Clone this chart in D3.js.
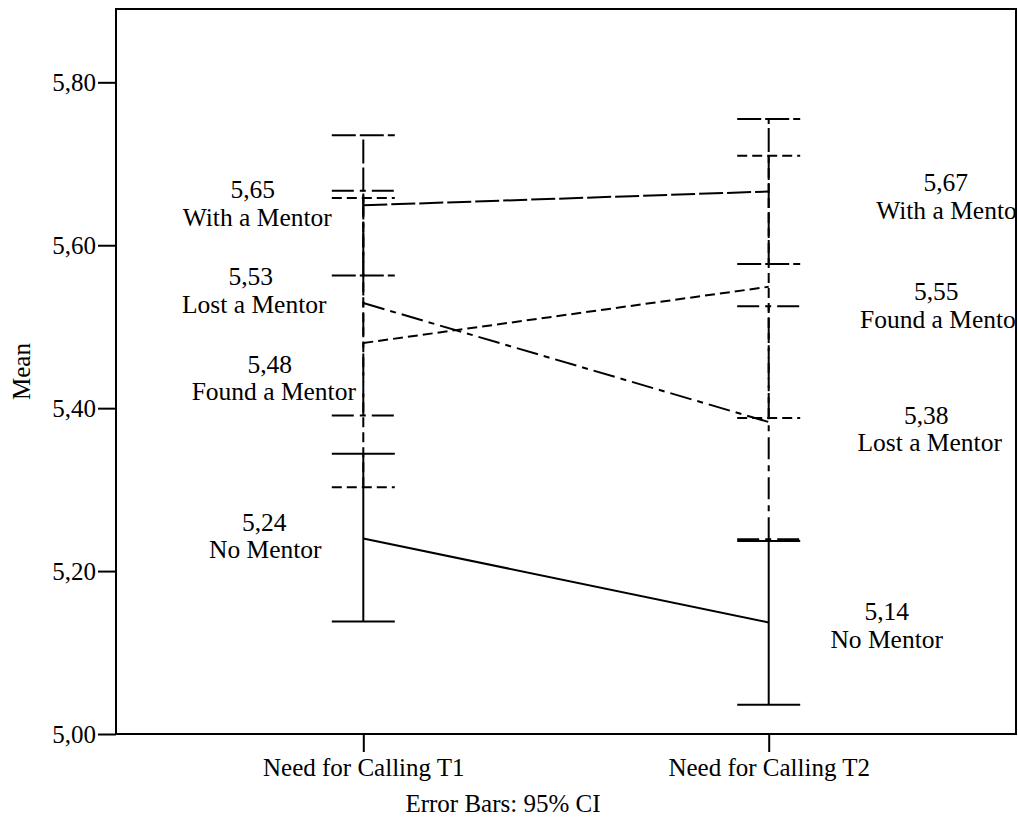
<!DOCTYPE html>
<html>
<head>
<meta charset="utf-8">
<script src="https://cdn.jsdelivr.net/npm/d3@7"></script>
<style>
  html, body { margin: 0; padding: 0; background: #fff; }
  svg { display: block; }
  svg text { font-family: "Liberation Serif", "DejaVu Serif", serif !important; fill: #000; }
</style>
</head>
<body>
<svg id="chart" width="1018" height="818"></svg>
<script>
// ---- data ----
const categories = ["Need for Calling T1", "Need for Calling T2"];
const groups = ["No Mentor", "With a Mentor", "Lost a Mentor", "Found a Mentor"];
const yTicks = [5.00, 5.20, 5.40, 5.60, 5.80];

const noMentorMean = [5.240, 5.137];
const noMentorLow  = [5.138, 5.036];
const noMentorHigh = [5.344, 5.237];

const withMentorMean = [5.649, 5.666];
const withMentorLow  = [5.563, 5.577];
const withMentorHigh = [5.735, 5.755];

const lostMentorMean = [5.529, 5.383];
const lostMentorLow  = [5.391, 5.239];
const lostMentorHigh = [5.667, 5.525];

const foundMentorMean = [5.480, 5.549];
const foundMentorLow  = [5.303, 5.388];
const foundMentorHigh = [5.658, 5.710];

// ---- styles / layout (not data) ----
const dashes = {
  "No Mentor": null,
  "With a Mentor": "24,4",
  "Lost a Mentor": "22,6,6,6",
  "Found a Mentor": "10,5"
};
// label offsets relative to (category x, mean y): [nameDx, numDx, numDy, nameDy]
const labelLayout = {
  "No Mentor":      [[-98, -99, -7.5, 20], [118, 118, -2, 26]],
  "With a Mentor":  [[-106, -110.5, -7, 20.5], [182, 177, 0, 28]],
  "Lost a Mentor":  [[-109, -112.5, -18, 10], [161, 157.5, 2, 29]],
  "Found a Mentor": [[-89.5, -93.5, 30, 57.5], [173.5, 167.5, 13, 41]]
};

const series = [
  { name: "No Mentor", mean: noMentorMean, low: noMentorLow, high: noMentorHigh },
  { name: "With a Mentor", mean: withMentorMean, low: withMentorLow, high: withMentorHigh },
  { name: "Lost a Mentor", mean: lostMentorMean, low: lostMentorLow, high: lostMentorHigh },
  { name: "Found a Mentor", mean: foundMentorMean, low: foundMentorLow, high: foundMentorHigh }
];

const svg = d3.select("#chart");
const pLeft = 116, pRight = 1016, pTop = 9, pBottom = 734;
const FONT = "25px";
const LABEL_FONT = "25.5px";

const x = d3.scalePoint().domain(categories).range([pLeft, pRight]).padding(0.61);
const y = d3.scaleLinear().domain([5.0, 5.89]).range([pBottom, pTop]);
const fmt = v => d3.format(".2f")(v).replace(".", ",");

svg.append("defs").append("clipPath").attr("id", "plotclip")
  .append("rect").attr("x", pLeft).attr("y", pTop).attr("width", pRight - pLeft).attr("height", pBottom - pTop);

// frame
svg.append("rect")
  .attr("x", pLeft).attr("y", pTop).attr("width", pRight - pLeft).attr("height", pBottom - pTop)
  .attr("fill", "none").attr("stroke", "#000").attr("stroke-width", 2);

// y axis
const yAxis = svg.append("g").attr("transform", `translate(${pLeft},0)`)
  .call(d3.axisLeft(y).tickValues(yTicks).tickSize(18).tickPadding(2).tickFormat(fmt));
yAxis.attr("font-family", null).attr("font-size", null);
yAxis.select(".domain").remove();
yAxis.selectAll(".tick line").attr("stroke", "#000").attr("stroke-width", 2);
yAxis.selectAll(".tick text").style("font-size", FONT);

// x axis
const xAxis = svg.append("g").attr("transform", `translate(0,${pBottom})`)
  .call(d3.axisBottom(x).tickSize(18).tickPadding(6));
xAxis.attr("font-family", null).attr("font-size", null);
xAxis.select(".domain").remove();
xAxis.selectAll(".tick line").attr("stroke", "#000").attr("stroke-width", 2);
xAxis.selectAll(".tick text").style("font-size", FONT);

// axis titles
svg.append("text")
  .attr("transform", `translate(30,${(pTop + pBottom) / 2}) rotate(-90)`)
  .attr("text-anchor", "middle").style("font-size", FONT).text("Mean");
svg.append("text")
  .attr("x", 503).attr("y", 812)
  .attr("text-anchor", "middle").style("font-size", FONT).text("Error Bars: 95% CI");

const plot = svg.append("g").attr("clip-path", "url(#plotclip)");

// lines between means
const line = d3.line().x((d, i) => x(categories[i])).y(d => y(d));
series.forEach(s => {
  plot.append("path")
    .attr("d", line(s.mean))
    .attr("fill", "none").attr("stroke", "#000").attr("stroke-width", 2)
    .attr("stroke-dasharray", dashes[s.name]);
});

// error bars
const capHalf = 31.5;
series.forEach(s => {
  categories.forEach((c, i) => {
    const cx = x(c);
    const g = plot.append("g")
      .attr("fill", "none").attr("stroke", "#000").attr("stroke-width", 2)
      .attr("stroke-dasharray", dashes[s.name]);
    g.append("line").attr("x1", cx).attr("x2", cx).attr("y1", y(s.low[i])).attr("y2", y(s.high[i]));
    g.append("line").attr("x1", cx - capHalf).attr("x2", cx + capHalf).attr("y1", y(s.low[i])).attr("y2", y(s.low[i]));
    g.append("line").attr("x1", cx - capHalf).attr("x2", cx + capHalf).attr("y1", y(s.high[i])).attr("y2", y(s.high[i]));
  });
});

// data labels
series.forEach(s => {
  categories.forEach((c, i) => {
    const [nameDx, numDx, numDy, nameDy] = labelLayout[s.name][i];
    const cx = x(c), cy = y(s.mean[i]);
    plot.append("text").attr("x", cx + numDx).attr("y", cy + numDy)
      .attr("text-anchor", "middle").style("font-size", LABEL_FONT).text(fmt(s.mean[i]));
    plot.append("text").attr("x", cx + nameDx).attr("y", cy + nameDy)
      .attr("text-anchor", "middle").style("font-size", LABEL_FONT).text(s.name);
  });
});
</script>
</body>
</html>
